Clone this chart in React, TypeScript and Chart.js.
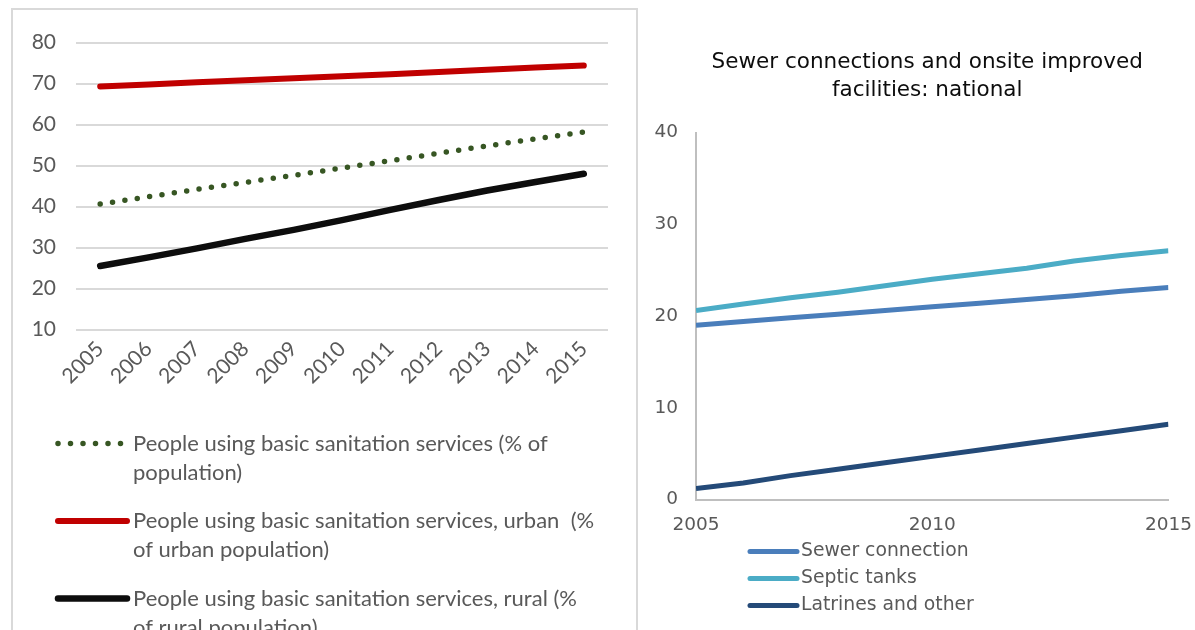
import React, { useEffect, useRef } from "react";
import { Chart, registerables } from "chart.js";

Chart.register(...registerables);

// ---------- Left chart data ----------
const years = ["2005", "2006", "2007", "2008", "2009", "2010", "2011", "2012", "2013", "2014", "2015"];
const basicTotal = [40.6, 42.4, 44.2, 45.9, 47.6, 49.4, 51.2, 53.0, 54.8, 56.5, 58.2];
const basicUrban = [69.3, 69.8, 70.3, 70.8, 71.3, 71.8, 72.3, 72.8, 73.4, 73.9, 74.4];
const basicRural = [25.5, 27.6, 29.8, 32.1, 34.3, 36.7, 39.2, 41.6, 43.9, 46.0, 48.0];
const leftLegendLines = [
  ["People using basic sanitation services (% of", "population)"],
  ["People using basic sanitation services, urban  (%", "of urban population)"],
  ["People using basic sanitation services, rural (%", "of rural population)"],
];

// ---------- Right chart data ----------
const natYears = [2005, 2006, 2007, 2008, 2009, 2010, 2011, 2012, 2013, 2014, 2015];
const sewerConnection = [19.0, 19.4, 19.8, 20.2, 20.6, 21.0, 21.4, 21.8, 22.2, 22.7, 23.1];
const septicTanks = [20.6, 21.3, 22.0, 22.6, 23.3, 24.0, 24.6, 25.2, 26.0, 26.6, 27.1];
const latrinesOther = [1.2, 1.8, 2.6, 3.3, 4.0, 4.7, 5.4, 6.1, 6.8, 7.5, 8.2];
const natLabels = ["Sewer connection", "Septic tanks", "Latrines and other"];
const natTitle = ["Sewer connections and onsite improved", "facilities: national"];

const GREY_TEXT = "#595959";
const LEFT_FONT = "Lato";
const RIGHT_FONT = "DejaVu Sans";

const leftLegendPlugin = {
  id: "leftLegend",
  afterDraw(chart: any) {
    const { ctx, chartArea } = chart;
    ctx.save();
    chart.data.datasets.forEach((ds: any, i: number) => {
      const y = chartArea.bottom + 114 + i * 77.5;
      ctx.beginPath();
      ctx.strokeStyle = ds.borderColor;
      ctx.lineWidth = ds.borderWidth;
      ctx.lineCap = "round";
      ctx.setLineDash(ds.borderDash || []);
      ctx.moveTo(45, y);
      ctx.lineTo(114, y);
      ctx.stroke();
      ctx.setLineDash([]);
      ctx.fillStyle = GREY_TEXT;
      ctx.font = `22px ${LEFT_FONT}`;
      ctx.textAlign = "left";
      ctx.textBaseline = "middle";
      leftLegendLines[i].forEach((line, j) => ctx.fillText(line, 120, y + j * 29));
    });
    ctx.restore();
  },
};

const rightDecorPlugin = {
  id: "rightDecor",
  afterDraw(chart: any) {
    const { ctx, chartArea } = chart;
    ctx.save();
    // title
    ctx.fillStyle = "#0d0d0d";
    ctx.font = `21.5px ${RIGHT_FONT}`;
    ctx.textAlign = "center";
    ctx.textBaseline = "middle";
    const cx = (chartArea.left + chartArea.right) / 2 - 5;
    natTitle.forEach((line, j) => ctx.fillText(line, cx, chartArea.top - 70 + j * 28));
    // legend
    chart.data.datasets.forEach((ds: any, i: number) => {
      const y = chartArea.bottom + 52 + i * 27;
      ctx.beginPath();
      ctx.strokeStyle = ds.borderColor;
      ctx.lineWidth = 5;
      ctx.lineCap = "round";
      ctx.moveTo(chartArea.left + 54, y);
      ctx.lineTo(chartArea.left + 101, y);
      ctx.stroke();
      ctx.fillStyle = GREY_TEXT;
      ctx.font = `18.8px ${RIGHT_FONT}`;
      ctx.textAlign = "left";
      ctx.textBaseline = "middle";
      ctx.fillText(ds.label, chartArea.left + 105, y);
    });
    ctx.restore();
  },
};

export default function App() {
  const leftRef = useRef<HTMLCanvasElement>(null);
  const rightRef = useRef<HTMLCanvasElement>(null);

  useEffect(() => {
    const left = new Chart(leftRef.current as HTMLCanvasElement, {
      type: "line",
      data: {
        labels: years,
        datasets: [
          {
            label: leftLegendLines[0].join(" "),
            data: basicTotal,
            borderColor: "#375623",
            borderWidth: 5.5,
            borderDash: [0, 12.5],
            borderCapStyle: "round",
            pointRadius: 0,
            tension: 0,
          },
          {
            label: leftLegendLines[1].join(" "),
            data: basicUrban,
            borderColor: "#c00000",
            borderWidth: 6,
            borderCapStyle: "round",
            borderJoinStyle: "round",
            pointRadius: 0,
            tension: 0,
          },
          {
            label: leftLegendLines[2].join(" "),
            data: basicRural,
            borderColor: "#0d0d0d",
            borderWidth: 6.5,
            borderCapStyle: "round",
            borderJoinStyle: "round",
            pointRadius: 0,
            tension: 0,
          },
        ],
      } as any,
      options: {
        responsive: false,
        animation: false,
        devicePixelRatio: 1,
        layout: { padding: { top: 29, right: 28, bottom: 220, left: 0 } },
        plugins: { legend: { display: false }, tooltip: { enabled: false } },
        scales: {
          x: {
            offset: true,
            grid: { display: false, drawTicks: false },
            border: { display: false },
            ticks: {
              autoSkip: false,
              minRotation: 45,
              maxRotation: 45,
              color: GREY_TEXT,
              font: { family: LEFT_FONT, size: 21 },
              padding: 7,
            },
            afterFit: (s: any) => {
              s.height = 100.5;
            },
          },
          y: {
            min: 10,
            max: 80,
            ticks: { stepSize: 10, color: GREY_TEXT, font: { family: LEFT_FONT, size: 21 }, padding: 20 },
            grid: { color: "#d9d9d9", lineWidth: 2, drawTicks: false },
            border: { display: false },
            afterFit: (s: any) => {
              s.width = 63;
            },
          },
        },
      } as any,
      plugins: [leftLegendPlugin],
    });

    const right = new Chart(rightRef.current as HTMLCanvasElement, {
      type: "line",
      data: {
        datasets: [
          { label: natLabels[0], data: natYears.map((x, i) => ({ x, y: sewerConnection[i] })), borderColor: "#4a7ebb" },
          { label: natLabels[1], data: natYears.map((x, i) => ({ x, y: septicTanks[i] })), borderColor: "#4bacc6" },
          { label: natLabels[2], data: natYears.map((x, i) => ({ x, y: latrinesOther[i] })), borderColor: "#244a78" },
        ].map((d) => ({ ...d, borderWidth: 5, pointRadius: 0, tension: 0, borderJoinStyle: "round" })),
      } as any,
      options: {
        responsive: false,
        animation: false,
        devicePixelRatio: 1,
        layout: { padding: { top: 102.5, right: 0, bottom: 100, left: 0 } },
        plugins: { legend: { display: false }, tooltip: { enabled: false } },
        scales: {
          x: {
            type: "linear",
            min: 2005,
            max: 2015,
            ticks: {
              stepSize: 5,
              maxRotation: 0,
              color: GREY_TEXT,
              font: { family: RIGHT_FONT, size: 18.5 },
              padding: 15,
              callback: (v: any) => String(v),
            },
            grid: { display: false, drawTicks: false },
            border: { color: "#bfbfbf", width: 2 },
            afterFit: (s: any) => {
              s.height = 30.5;
            },
          },
          y: {
            min: 0,
            max: 40,
            ticks: { stepSize: 10, color: GREY_TEXT, font: { family: RIGHT_FONT, size: 18.5 }, padding: 18 },
            grid: { display: false, drawTicks: false },
            border: { color: "#bfbfbf", width: 2 },
            afterFit: (s: any) => {
              s.width = 56;
            },
          },
        },
      } as any,
      plugins: [rightDecorPlugin],
    });

    return () => {
      left.destroy();
      right.destroy();
    };
  }, []);

  return (
    <div
      style={{
        position: "fixed",
        left: 0,
        top: 0,
        width: 1195,
        height: 630,
        overflow: "hidden",
        background: "#fff",
      }}
    >
      <div
        style={{
          position: "absolute",
          left: 11,
          top: 8,
          width: 623,
          height: 640,
          border: "2px solid #d9d9d9",
        }}
      >
        <canvas ref={leftRef} width={623} height={640} style={{ display: "block" }} />
      </div>
      <div style={{ position: "absolute", left: 640, top: 30, width: 567, height: 600 }}>
        <canvas ref={rightRef} width={567} height={600} style={{ display: "block" }} />
      </div>
    </div>
  );
}
